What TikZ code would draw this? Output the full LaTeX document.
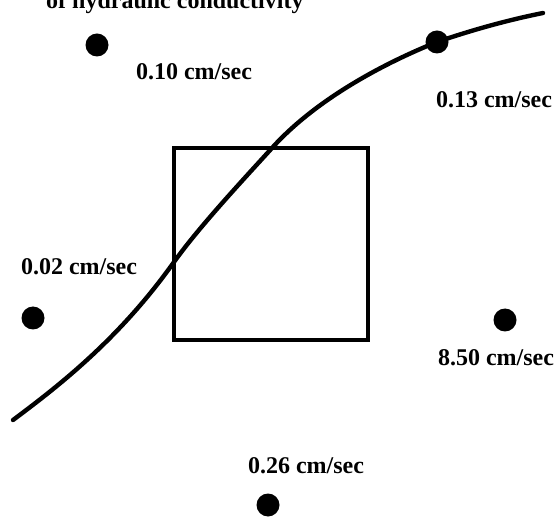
\documentclass[tikz,border=0pt]{standalone}
\usepackage{fontspec}
\setmainfont{Liberation Serif}
\begin{document}
\begin{tikzpicture}[x=1pt,y=-1pt,
  every node/.style={font=\bfseries\fontsize{24}{28}\selectfont},
  well/.style={circle,fill=black,minimum size=23pt,inner sep=0pt},
  kval/.style={inner sep=0pt}]
  \useasboundingbox (0,0) rectangle (554,518);

  \node[kval,anchor=base west] (title) at (46,9) {of hydraulic conductivity};

  % wells
  \node[well] (wA) at (97,45) {};
  \node[well] (wB) at (437,42) {};
  \node[well] (wC) at (33,318) {};
  \node[well] (wD) at (505,320) {};
  \node[well] (wE) at (268,505) {};

  % measured values
  \node[kval] (kA) at (194,72) {0.10 cm/sec};
  \node[kval] (kB) at (494,100) {0.13 cm/sec};
  \node[kval] (kC) at (79,267) {0.02 cm/sec};
  \node[kval] (kD) at (496,358) {8.50 cm/sec};
  \node[kval] (kE) at (306,466) {0.26 cm/sec};

  % site
  \node[draw,line width=3.2pt,minimum width=194pt,minimum height=192pt,inner sep=0pt]
    (site) at (271,244) {};

  % boundary line
  \draw[line width=4.4pt,line cap=round]
    (13,420) .. controls (60,385) and (120,338) .. (174,262)
             .. controls (199,227) and (242,181) .. (272,148)
             .. controls (317,98) and (387,62) .. (wB.center)
             .. controls (472,30) and (508,20) .. (543,13);
\end{tikzpicture}
\end{document}
